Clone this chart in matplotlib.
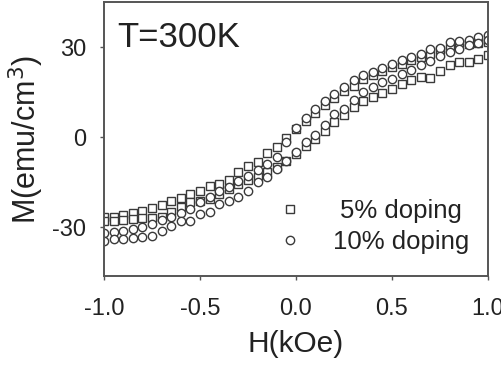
import matplotlib
matplotlib.use("Agg")
import matplotlib.pyplot as plt

plt.rcParams['font.family'] = ['Liberation Sans', 'DejaVu Sans']
plt.rcParams['axes.unicode_minus'] = False

H = [-1.00, -0.95, -0.90, -0.85, -0.80, -0.75, -0.70, -0.65, -0.60, -0.55,
     -0.50, -0.45, -0.40, -0.35, -0.30, -0.25, -0.20, -0.15, -0.10, -0.05,
     0.00, 0.05, 0.10, 0.15, 0.20, 0.25, 0.30, 0.35, 0.40, 0.45,
     0.50, 0.55, 0.60, 0.65, 0.70, 0.75, 0.80, 0.85, 0.90, 0.95, 1.00]

# 5% doping, descending-field branch
m5_down = [-26.7, -26.5, -25.8, -25.2, -24.5, -23.6, -22.5, -21.4, -20.3, -18.8,
           -17.8, -16.3, -15.5, -14.2, -11.5, -9.6, -8.2, -5.3, -3.3, -0.2,
           2.8, 5.5, 8.2, 10.8, 13.0, 15.5, 17.2, 19.5, 20.7, 22.1,
           23.3, 24.4, 25.6, 26.7, 27.8, 28.9, 29.8, 30.8, 31.0, 31.5, 31.8]
# 5% doping, ascending-field branch
m5_up = [-28.0, -27.8, -27.6, -27.2, -27.0, -26.8, -26.7, -25.0, -23.3, -21.7,
         -21.1, -20.6, -18.9, -17.2, -15.6, -14.4, -13.3, -11.5, -9.8, -7.8,
         -5.5, -3.0, -0.5, 2.2, 5.0, 7.5, 10.0, 12.2, 13.3, 14.8,
         16.1, 17.8, 19.0, 20.0, 19.6, 22.0, 23.9, 25.0, 25.0, 26.1, 27.2]
# 10% doping, descending-field branch
m10_down = [-32.0, -31.5, -31.2, -30.5, -29.8, -29.0, -27.5, -26.5, -25.2, -23.9,
            -21.5, -20.0, -18.0, -16.7, -14.5, -12.8, -11.0, -8.9, -6.7, -1.5,
            3.0, 6.3, 9.4, 12.2, 14.5, 16.7, 18.9, 20.6, 21.8, 22.9,
            24.4, 25.6, 26.7, 27.8, 29.4, 29.8, 31.7, 31.9, 32.4, 33.3, 33.9]
# 10% doping, ascending-field branch
m10_up = [-34.4, -33.9, -33.8, -33.5, -33.2, -32.8, -31.1, -29.4, -27.8, -27.8,
          -25.6, -25.0, -22.2, -21.1, -20.0, -17.8, -15.0, -13.3, -10.6, -7.8,
          -5.0, -1.7, 0.6, 4.2, 7.8, 9.4, 12.5, 15.0, 16.8, 18.3,
          19.5, 21.0, 22.5, 24.0, 25.5, 27.0, 28.3, 29.5, 30.6, 31.5, 32.5]

labels = ["5% doping", "10% doping"]
xticks = [-1.0, -0.5, 0.0, 0.5, 1.0]
xticklabels = ["-1.0", "-0.5", "0.0", "0.5", "1.0"]
yticks = [-30, 0, 30]

ec = '#3a3a3a'
fig = plt.figure(figsize=(5.02, 3.65), dpi=100)
ax = fig.add_axes([104/502, 1-276/365, (488-104)/502, (276-2)/365])

mk = dict(linestyle='none', markerfacecolor='white', markeredgecolor=ec,
          markersize=6, markeredgewidth=1.0)
ax.plot(H, m5_down, marker='s', **mk)
ax.plot(H, m5_up, marker='s', **mk)
ax.plot(H, m10_down, marker='o', **mk)
ax.plot(H, m10_up, marker='o', **mk)

ax.set_xlim(-1.0, 1.0)
ax.set_ylim(-46.2, 45.0)
ax.set_xticks(xticks)
ax.set_xticklabels(xticklabels)
ax.set_yticks(yticks)
ax.tick_params(axis='both', direction='out', length=3, width=1, color='#555',
               labelsize=17, labelcolor='#222')
ax.tick_params(axis='x', pad=13)
ax.tick_params(axis='y', pad=10)
for s in ax.spines.values():
    s.set_color('#555')
    s.set_linewidth(1.4)

ax.set_xlabel("H(kOe)", fontsize=21.5, color='#222', labelpad=7)
ax.set_ylabel("M(emu/cm$^3$)", fontsize=22, color='#222', labelpad=4)

ax.text(0.035, 0.93, "T=300K", transform=ax.transAxes, fontsize=25,
        color='#222', ha='left', va='top')

# legend
ax.plot([0.484], [0.243], transform=ax.transAxes, marker='s', **mk)
ax.plot([0.484], [0.13], transform=ax.transAxes, marker='o', **mk)
ax.text(0.773, 0.237, labels[0], transform=ax.transAxes, fontsize=18.5,
        color='#222', ha='center', va='center')
ax.text(0.773, 0.124, labels[1], transform=ax.transAxes, fontsize=18.5,
        color='#222', ha='center', va='center')

fig.savefig("out.png", dpi=100)
